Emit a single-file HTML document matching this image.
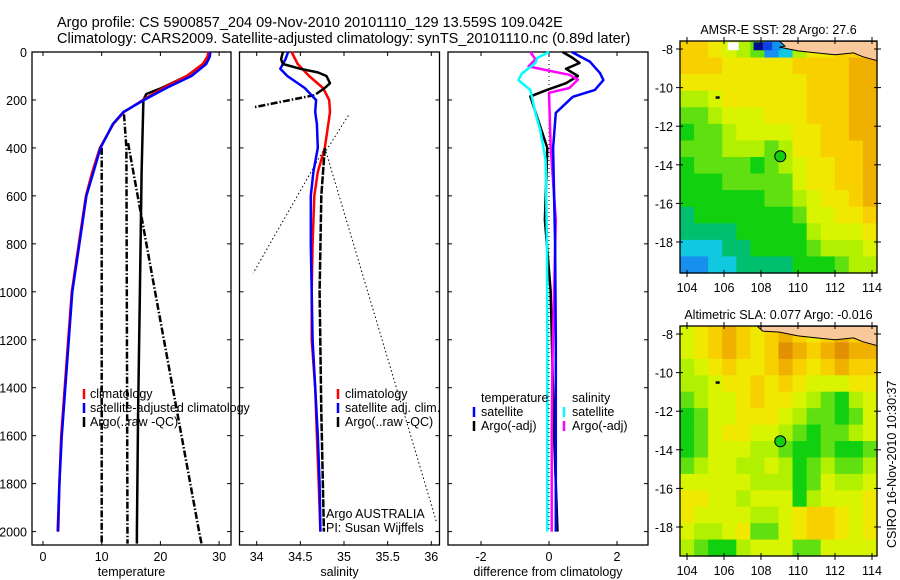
<!DOCTYPE html>
<html><head><meta charset="utf-8"><style>
body{margin:0;background:#fff;}
svg{display:block;font-family:"Liberation Sans",sans-serif;}
</style></head><body>
<svg id="chart" width="900" height="580" viewBox="0 0 900 580">
<text x="57" y="27" font-size="14.5">Argo profile: CS 5900857_204 09-Nov-2010 20101110_129 13.559S 109.042E</text>
<text x="57" y="43" font-size="14.5">Climatology: CARS2009. Satellite-adjusted climatology: synTS_20101110.nc (0.89d later)</text>
<g id="g"></g>
</svg>
<script>
// ---------- data ----------
const depthTicks=[0,200,400,600,800,1000,1200,1400,1600,1800,2000];
const tempTicks=[0,10,20,30];
const salTicks=[34,34.5,35,35.5,36];
const diffTicks=[-2,0,2];
const latTicks=[-8,-10,-12,-14,-16,-18];
const lonTicks=[104,106,108,110,112,114];

const tClimD=[0,20,50,100,150,200,250,300,400,500,600,800,1000,1200,1400,1600,1800,2000];
const tClimV=[28.2,28,27.2,24.5,20.5,17,13.8,12,9.7,8.4,7.3,6.1,4.9,4.3,3.7,3.1,2.8,2.6];
const tSatD=[0,20,50,100,150,200,250,300,400,500,600,800,1000,1200,1400,1600,1800,2000];
const tSatV=[28.5,28.4,27.8,25.3,21,17.2,13.7,11.9,9.8,8.6,7.4,6.2,5.0,4.4,3.8,3.2,2.8,2.5];
const tArgoD=[0,20,50,100,150,175,200,500,1000,1500,2000,2050];
const tArgoV=[28.3,28,27.3,24.5,20.2,17.6,17.1,16.8,16.5,16.2,16.0,16.0];
const tRawAD=[400,2050], tRawAV=[10.0,10.0];
const tRawBD=[260,400,2050], tRawBV=[13.8,14.2,14.4];
const tRawCD=[380,1000,2000,2050], tRawCV=[14.5,19.1,26.6,27.0];

const sClimD=[0,50,100,150,200,250,300,400,500,600,800,1000,1200,1400,1600,1800,2000];
const sClimV=[34.40,34.47,34.6,34.76,34.83,34.84,34.82,34.78,34.7,34.66,34.64,34.63,34.63,34.67,34.69,34.71,34.73];
const sSatD=[0,30,70,100,150,200,250,300,400,500,600,800,1000,1200,1400,1600,1800,2000];
const sSatV=[34.36,34.33,34.27,34.35,34.55,34.68,34.67,34.69,34.7,34.65,34.62,34.62,34.63,34.64,34.67,34.7,34.72,34.73];
const sArgoD=[0,30,50,70,85,100,130,150,175];
const sArgoV=[34.3,34.28,34.3,34.5,34.7,34.8,34.84,34.78,34.68];
const sArgoDeepD=[400,600,1000,1500,2000];
const sArgoDeepV=[34.78,34.74,34.72,34.74,34.77];
const sRawD=[180,230], sRawV=[34.66,33.97];
const sDotAD=[400,922], sDotAV=[34.78,33.96];
const sDotBD=[400,1960], sDotBV=[34.78,36.06];
const sDotCD=[265,420], sDotCV=[35.05,34.78];

const dTSatD=[0,40,88,117,158,187,254,400,800,1200,1600,2000];
const dTSatV=[0.67,1.2,1.5,1.6,1.35,0.7,0.2,0.12,0.18,0.2,0.2,0.2];
const dSSatD=[0,25,46,90,117,158,254,325,450,800,1200,2000];
const dSSatV=[0,-0.35,-0.4,-0.8,-0.9,-0.55,-0.4,-0.26,-0.1,-0.06,-0.05,-0.05];
const dTArgoD=[0,25,46,70,100,130,160,185,400,700,1000,1300,1600,2000];
const dTArgoV=[0.4,0.7,0.9,0.5,0.85,0.5,-0.1,-0.55,-0.05,-0.12,0.05,0.1,0.15,0.25];
const dSArgoD=[0,30,60,75,95,115,150,170,400,700,1000,1300,1600,2000];
const dSArgoV=[-0.55,-0.4,-0.6,-0.1,0.6,0.85,0.6,0.0,0.05,0.2,0.15,0.1,0.08,0.08];

const sstRows=["88765401577888","88877777888899","77777777788899","55677777788899","44566677788899","34456666778899","44455545778889","34444345677889","33344444677889","33333344567789","23333333466778","22223333356667","11122333345556","00112222333455"];
const slaRows=["67898789878988","6789878a989a99","56787789878988","55677878766677","45667877654356","34667776544346","34677665434456","34666554334334","45665565345445","66666555346556","77665666356667","76666556788767","65567446788767","54335666446666"];
const palette=["#1890f0","#10c8e0","#00c070","#10d010","#60e010","#b0f000","#d8f400","#f0e800","#f8d000","#f0b000","#e09000"];

// ---------- helpers ----------
const NS="http://www.w3.org/2000/svg";
const G=document.getElementById('g');
function mk(tag,attrs,parent){const e=document.createElementNS(NS,tag);for(const k in attrs)e.setAttribute(k,attrs[k]);(parent||G).appendChild(e);return e;}
const yD=d=>52+d*0.2398;
const xT=t=>43+t*5.87;
const xS=s=>256.7+(s-34)*87.3;
const xDf=v=>549+v*34;
function poly(ds,vs,xf,color,w,dash,name){
  const pts=ds.map((d,i)=>xf(vs[i]).toFixed(1)+","+yD(d).toFixed(1)).join(" ");
  const a={points:pts,fill:"none",stroke:color,"stroke-width":w,"stroke-linejoin":"round"};
  if(dash)a["stroke-dasharray"]=dash;
  const e=mk('polyline',a);
  
  
  return e;
}
function txt(x,y,s,size,anchor,name){
  const e=mk('text',{x:x,y:y,"font-size":size,"text-anchor":anchor||"start"});
  e.textContent=s;
  
  
  return e;
}
function panel(x0,x1,xticks,xf,xlabel,name,ylabels){
  const y0=52,y1=545;
  const r=mk('rect',{x:x0,y:y0,width:x1-x0,height:y1-y0,fill:"none",stroke:"#000","stroke-width":1.3});
  
  
  depthTicks.forEach(d=>{const y=yD(d);
    mk('line',{x1:x0,x2:x0+4,y1:y,y2:y,stroke:"#000"});mk('line',{x1:x1-4,x2:x1,y1:y,y2:y,stroke:"#000"});
    if(ylabels)txt(x0-5,y+5,String(d),12.5,"end","depth-tick-label");});
  xticks.forEach(v=>{const x=xf(v);
    mk('line',{x1:x,x2:x,y1:y1,y2:y1-4,stroke:"#000"});mk('line',{x1:x,x2:x,y1:y0,y2:y0+4,stroke:"#000"});
    txt(x,561,String(v),12.5,"middle",name+"-x-tick-label");});
  txt((x0+x1)/2,576,xlabel,12.5,"middle",name+"-x-axis-title");
}
function legendTick(x,y,color,name){
  const e=mk('line',{x1:x,x2:x,y1:y-9,y2:y+1,stroke:color,"stroke-width":2.5});
  
  
}

// ---------- temperature panel ----------
panel(32,231,tempTicks,xT,"temperature","temperature-panel",true);
poly(tRawAD,tRawAV,xT,"#000",2.5,"7,2,1.5,2","argo-raw-temp-a");
poly(tRawBD,tRawBV,xT,"#000",2.5,"7,2,1.5,2","argo-raw-temp-b");
poly(tRawCD,tRawCV,xT,"#000",2.5,"7,2,1.5,2","argo-raw-temp-c");
poly(tArgoD,tArgoV,xT,"#000",2.5,null,"argo-temp-line");
poly(tClimD,tClimV,xT,"#f00",2.5,null,"climatology-temp-line");
poly(tSatD,tSatV,xT,"#00f",2.5,null,"satellite-temp-line");
legendTick(84,398,"#f00","legend-climatology-swatch");txt(90,398,"climatology",12.5,"start","legend-climatology");
legendTick(84,412,"#00f","legend-satellite-swatch");txt(90,412,"satellite-adjusted climatology",12.5,"start","legend-satellite");
legendTick(84,426,"#000","legend-argo-swatch");txt(90,426,"Argo(..raw -QC)",12.5,"start","legend-argo");

// ---------- salinity panel ----------
panel(239.5,439.5,salTicks,xS,"salinity","salinity-panel",false);
poly(sDotAD,sDotAV,xS,"#000",1,"1.5,2.5","argo-raw-sal-dotted-a");
poly(sDotBD,sDotBV,xS,"#000",1,"1.5,2.5","argo-raw-sal-dotted-b");
poly(sDotCD,sDotCV,xS,"#000",1,"1.5,2.5","argo-raw-sal-dotted-c");
poly(sRawD,sRawV,xS,"#000",2.5,"7,2,1.5,2","argo-raw-sal-dashdot");
poly(sClimD,sClimV,xS,"#f00",2.5,null,"climatology-sal-line");
poly(sSatD,sSatV,xS,"#00f",2.5,null,"satellite-sal-line");
poly(sArgoDeepD,sArgoDeepV,xS,"#000",2.5,"8,1.5","argo-sal-deep-line");
poly(sArgoD,sArgoV,xS,"#000",2.5,null,"argo-sal-line");
legendTick(338,398,"#f00","legend-sal-climatology-swatch");txt(345,398,"climatology",12.5,"start","legend-sal-climatology");
legendTick(338,412,"#00f","legend-sal-satellite-swatch");txt(345,412,"satellite adj. clim.",12.5,"start","legend-sal-satellite");
legendTick(338,426,"#000","legend-sal-argo-swatch");txt(345,426,"Argo(..raw -QC)",12.5,"start","legend-sal-argo");
txt(326,518,"Argo AUSTRALIA",12.5,"start","argo-program-label");
txt(326,532,"PI: Susan Wijffels",12.5,"start","pi-label");

// ---------- difference panel ----------
panel(448,648,diffTicks,xDf,"difference from climatology","difference-panel",false);
{const e=mk('line',{x1:xDf(0),x2:xDf(0),y1:yD(0),y2:yD(2000),stroke:"#000","stroke-dasharray":"1,3"});
}
poly(dTArgoD,dTArgoV,xDf,"#000",2.5,null,"argo-temp-diff-line");
poly(dSArgoD,dSArgoV,xDf,"#f0f",2.5,null,"argo-sal-diff-line");
poly(dSSatD,dSSatV,xDf,"#0ff",2.5,null,"satellite-sal-diff-line");
poly(dTSatD,dTSatV,xDf,"#00f",2.5,null,"satellite-temp-diff-line");
txt(481,402,"temperature",12.5,"start","legend-diff-temperature-header");
txt(572,402,"salinity",12.5,"start","legend-diff-salinity-header");
legendTick(474,416,"#00f","legend-diff-sat-temp-swatch");txt(481,416,"satellite",12.5,"start","legend-diff-sat-temp");
legendTick(474,430,"#000","legend-diff-argo-temp-swatch");txt(481,430,"Argo(-adj)",12.5,"start","legend-diff-argo-temp");
legendTick(564,416,"#0ff","legend-diff-sat-sal-swatch");txt(572,416,"satellite",12.5,"start","legend-diff-sat-sal");
legendTick(564,430,"#f0f","legend-diff-argo-sal-swatch");txt(572,430,"Argo(-adj)",12.5,"start","legend-diff-argo-sal");

// ---------- maps ----------
function map(top,bot,rows,title,name,coastLon0,extra){
  const L=680,R=877;
  const lonX=l=>687+(l-104)*18.5;
  const latY=a=>top+8+(-8-a)*19.3;
  const nr=rows.length,nc=rows[0].length;
  const cw=(R-L)/nc,ch=(bot-top)/nr;
  rows.forEach((row,i)=>{for(let j=0;j<nc;j++){
    const c=mk('rect',{x:(L+j*cw).toFixed(2),y:(top+i*ch).toFixed(2),width:(cw+0.6).toFixed(2),height:(ch+0.6).toFixed(2),fill:palette[parseInt(row[j],16)]});
    
    
  }});
  if(extra)extra(lonX,latY);
  const coast=[[coastLon0,-7.6],[coastLon0+0.3,-7.85],[109,-7.9],[110,-8.1],[111,-8.2],[112,-8.3],[113,-8.2],[113.5,-8.4],[114.27,-8.6],[114.27,-7.6]];
  const land=mk('polygon',{points:coast.map(p=>lonX(p[0]).toFixed(1)+","+Math.max(top,latY(p[1])).toFixed(1)).join(" "),fill:"#f9c99c",stroke:"#000","stroke-width":1});
  
  
  const ci=mk('circle',{cx:lonX(109.042),cy:latY(-13.559),r:5.5,fill:"#10d010",stroke:"#000","stroke-width":1});
  
  
  const isl=mk('rect',{x:lonX(105.55),y:latY(-10.45),width:4,height:2.5,fill:"#000"});
  
  
  const fr=mk('rect',{x:L,y:top,width:R-L,height:bot-top,fill:"none",stroke:"#000","stroke-width":1.3});
  
  
  latTicks.forEach(a=>{const y=latY(a);mk('line',{x1:L-4,x2:L+3,y1:y,y2:y,stroke:"#000"});mk('line',{x1:R-3,x2:R+4,y1:y,y2:y,stroke:"#000"});
    txt(673,y+5,String(a),12.5,"end",name+"-lat-label");});
  lonTicks.forEach(l=>{const x=lonX(l);mk('line',{x1:x,x2:x,y1:bot-3,y2:bot+4,stroke:"#000"});mk('line',{x1:x,x2:x,y1:top-4,y2:top+3,stroke:"#000"});
    txt(x,bot+19,String(l),12.5,"middle",name+"-lon-label");});
  txt((L+R)/2,top-7,title,12.5,"middle",name+"-title");
}
map(41,273,sstRows,"AMSR-E SST: 28 Argo: 27.6","sst-map",109.0,(lonX,latY)=>{
  const cells=[[106.2,"#ffffff"],[107.6,"#000c90"],[108.1,"#1040e0"],[108.6,"#1090f0"],[109.1,"#10c8e0"]];
  cells.forEach(c=>{const r=mk('rect',{x:lonX(c[0]),y:latY(-7.65),width:11,height:8,fill:c[1]});
    });
});
map(326,556,slaRows,"Altimetric SLA: 0.077 Argo: -0.016","sla-map",107.8,null);
{const t=txt(0,0,"CSIRO 16-Nov-2010 10:30:37",12.5,"start","timestamp-label");
t.setAttribute('transform','translate(896,548) rotate(-90)');}
</script>
</body></html>
